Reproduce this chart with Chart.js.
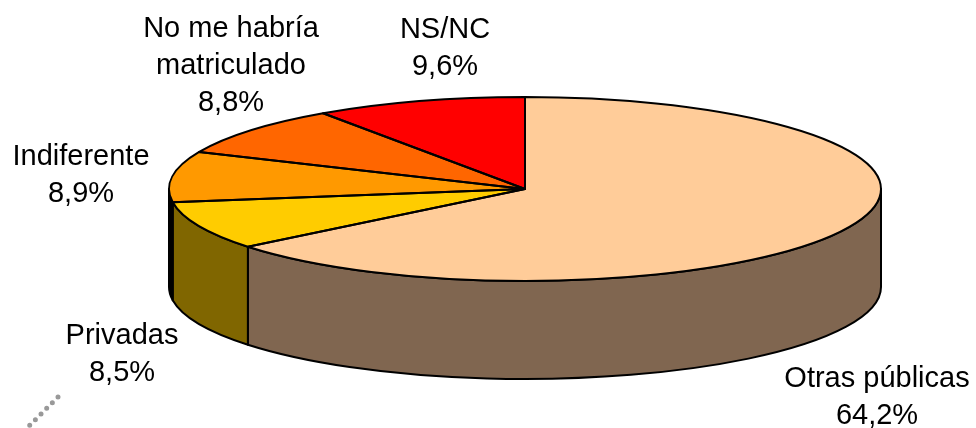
<!DOCTYPE html>
<html><head><meta charset="utf-8">
<style>html,body{margin:0;padding:0;background:#fff}#w{position:relative;width:976px;height:428px}canvas{display:block}</style>
<script src="https://cdn.jsdelivr.net/npm/chart.js@4"></script>
</head><body><div id="w"><canvas id="c" width="976" height="428"></canvas></div>
<script>
const categories = ["Otras públicas","Privadas","Indiferente","No me habría matriculado","NS/NC"];
const shares = [64.2,8.5,8.9,8.8,9.6];
const labelLines = [["Otras públicas","64,2%"],["Privadas","8,5%"],["Indiferente","8,9%"],["No me habría","matriculado","8,8%"],["NS/NC","9,6%"]];
const topColors = ["#FFCC99","#FFCC00","#FF9900","#FF6600","#FF0000"];
const wallColors = ["#806650","#806600","#000000","#803300","#800000"];
const labelAnchors = [[877,379],[122,336],[81,157],[231,29],[445,30]];

const CX=525,CY=189,RX=356,RY=92,DEPTH=98;

const pie3d={
  id:'pie3d',
  beforeDatasetsDraw(chart){
    const ctx=chart.ctx, arcs=chart.getDatasetMeta(0).data;
    const R=arcs[0].outerRadius, c0=arcs[0];
    ctx.save();
    ctx.lineWidth=2;ctx.strokeStyle='#000';ctx.lineJoin='round';
    arcs.forEach((el,i)=>{
      const s=Math.max(el.startAngle,0), e=Math.min(el.endAngle,Math.PI);
      if(e<=s) return;
      ctx.beginPath();
      ctx.ellipse(CX,CY,RX,RY,0,s,e,false);
      ctx.ellipse(CX,CY+DEPTH,RX,RY,0,e,s,true);
      ctx.closePath();
      ctx.fillStyle=wallColors[i];ctx.fill();ctx.stroke();
    });
    ctx.restore();
    ctx.save();
    ctx.translate(CX,CY);ctx.scale(RX/R,RY/R);ctx.translate(-c0.x,-c0.y);
  },
  afterDatasetsDraw(chart){
    const ctx=chart.ctx, arcs=chart.getDatasetMeta(0).data;
    ctx.restore();
    ctx.save();
    ctx.lineWidth=2;ctx.strokeStyle='#000';ctx.lineJoin='round';
    arcs.forEach(el=>{
      ctx.beginPath();
      ctx.moveTo(CX,CY);
      ctx.ellipse(CX,CY,RX,RY,0,el.startAngle,el.endAngle,false);
      ctx.closePath();ctx.stroke();
    });
    ctx.restore();
    ctx.save();
    ctx.fillStyle='#000';ctx.font='29px "Liberation Sans",Arial,sans-serif';
    ctx.textAlign='center';ctx.textBaseline='middle';
    labelLines.forEach((ls,i)=>{
      ls.forEach((t,j)=>ctx.fillText(t,labelAnchors[i][0],labelAnchors[i][1]+j*37));
    });
    ctx.strokeStyle='#999';ctx.lineWidth=5;ctx.lineCap='round';ctx.setLineDash([0,8]);
    ctx.beginPath();ctx.moveTo(58,397);ctx.lineTo(29,426);ctx.stroke();
    ctx.restore();
  }
};

new Chart(document.getElementById('c'),{
  type:'pie',
  data:{labels:categories,datasets:[{data:shares,backgroundColor:topColors,borderWidth:0}]},
  options:{responsive:false,animation:false,rotation:0,
    layout:{padding:0},
    plugins:{legend:{display:false},tooltip:{enabled:false}}},
  plugins:[pie3d]
});
</script></body></html>
